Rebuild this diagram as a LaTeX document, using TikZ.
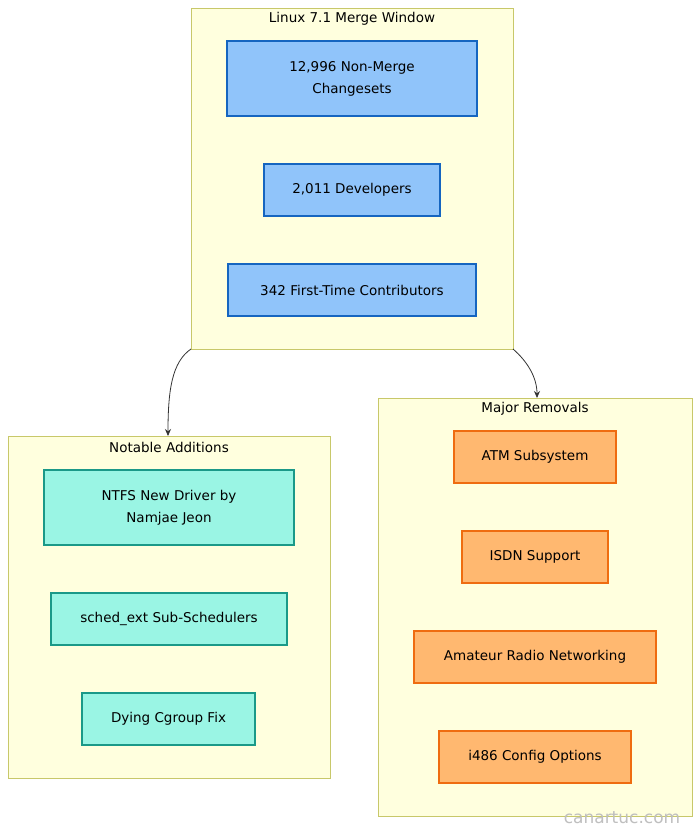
\documentclass[tikz,border=0pt]{standalone}
\usepackage{fontspec}
\usetikzlibrary{arrows.meta}
\setmainfont{DejaVu Sans}
\begin{document}
\begin{tikzpicture}[x=1pt,y=-1pt,
 font=\fontsize{13.5}{22}\selectfont,
 cl/.style={draw=clb,fill=clf,line width=0.8pt},
 blue/.style={draw=bb,fill=bf,line width=1.8pt,align=center,inner sep=0},
 teal/.style={draw=tb,fill=tf,line width=1.3pt,align=center,inner sep=0},
 ora/.style={draw=ob,fill=of,line width=1.3pt,align=center,inner sep=0},
 arr/.style={draw=black!80,line width=0.8pt,-{Stealth[length=7pt,width=6pt]}}]
\definecolor{clb}{HTML}{C8C86A}\definecolor{clf}{HTML}{FFFFDE}
\definecolor{bb}{HTML}{1565C0}\definecolor{bf}{HTML}{90C4FA}
\definecolor{tb}{HTML}{1A9988}\definecolor{tf}{HTML}{9AF5E4}
\definecolor{ob}{HTML}{EF6C10}\definecolor{of}{HTML}{FFB870}
\useasboundingbox (0,0) rectangle (700,835);
\fill[white] (0,0) rectangle (700,835);
% clusters
\draw[cl] (191,8) rectangle (513,349);
\node (t1) at (352,19) {Linux 7.1 Merge Window};
\draw[cl] (8,436) rectangle (330,778);
\node (t2) at (169,447) {Notable Additions};
\draw[cl] (378,398) rectangle (692,816);
\node (t3) at (535,409) {Major Removals};
\coordinate (m1) at (191,349); \coordinate (m2) at (513,349);
\coordinate (a) at (168,436); \coordinate (r) at (537,398);
% top
\node[blue,minimum width=250,minimum height=75] (n1) at (352,78.5) {12,996 Non-Merge\\Changesets};
\node[blue,minimum width=176,minimum height=52] (n2) at (352,190) {2,011 Developers};
\node[blue,minimum width=248,minimum height=52] (n3) at (352,290) {342 First-Time Contributors};
% left
\node[teal,minimum width=250,minimum height=75] (l1) at (169,507.5) {NTFS New Driver by\\Namjae Jeon};
\node[teal,minimum width=236,minimum height=52] (l2) at (169,619) {sched\_ext Sub-Schedulers};
\node[teal,minimum width=173,minimum height=52] (l3) at (168.5,719) {Dying Cgroup Fix};
% right
\node[ora,minimum width=162,minimum height=52] (r1) at (535,457) {ATM Subsystem};
\node[ora,minimum width=146,minimum height=52] (r2) at (535,557) {ISDN Support};
\node[ora,minimum width=242,minimum height=52] (r3) at (535,657) {Amateur Radio Networking};
\node[ora,minimum width=192,minimum height=52] (r4) at (535,757) {i486 Config Options};
% arrows
\draw[arr] (m1) .. controls (172,362) and (168,390) .. (a);
\draw[arr] (m2) .. controls (528,362) and (537,378) .. (r);
\node[text=black!25,font=\fontsize{17}{20}\selectfont] (wm) at (622,818) {canartuc.com};
\end{tikzpicture}
\end{document}
